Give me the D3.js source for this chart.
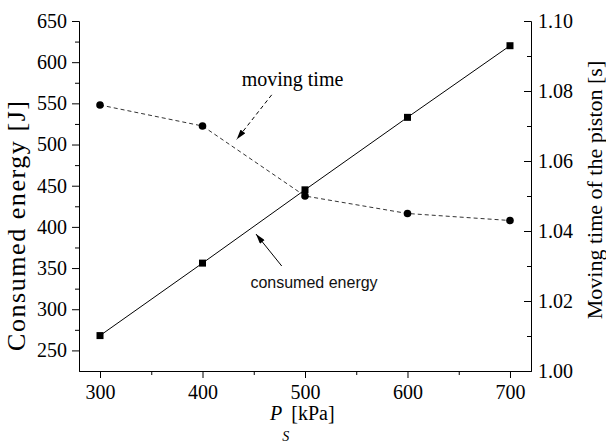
<!DOCTYPE html>
<html lang="en">
<head>
    <meta charset="UTF-8">
    <title>Consumed energy and moving time</title>
    <style>
    html, body {
        margin: 0;
        padding: 0;
        background-color: white;
    }

    svg {
        display: block;
        background-color: white;
    }

    .axis path, .axis line {
        stroke: black;
        stroke-width: 1;
    }

    .label {
        font-family: "Liberation Serif", "Times New Roman", serif;
        fill: black;
    }
    </style>
    <script src="https://d3js.org/d3.v7.min.js"></script>
</head>
<body>
    <svg id='canvas'></svg>
    <script>
    // Data
    let pressure = [300, 400, 500, 600, 700];
    let energy = [268, 356, 445, 533, 620];
    let movingTime = [1.076, 1.070, 1.050, 1.045, 1.043];

    let xTicks = [300, 400, 500, 600, 700];
    let xMinorTicks = [350, 450, 550, 650];
    let leftTicks = [250, 300, 350, 400, 450, 500, 550, 600, 650];
    let leftMinorTicks = [275, 325, 375, 425, 475, 525, 575, 625];
    let rightTicks = [1.00, 1.02, 1.04, 1.06, 1.08, 1.10];
    let rightMinorTicks = [1.01, 1.03, 1.05, 1.07, 1.09];

    let width = 606;
    let height = 445;
    let plotLeft = 79;
    let plotRight = 531;
    let plotTop = 21;
    let plotBottom = 371;
    let serif = '"Liberation Serif", "Times New Roman", serif';

    let svg = d3.select('#canvas')
        .attr('width', width)
        .attr('height', height);

    // Scales
    let xScale = d3.scaleLinear().domain([279.5, 720.5]).range([plotLeft, plotRight]);
    let yLeft = d3.scaleLinear().domain([225, 650]).range([plotBottom, plotTop]);
    let yRight = d3.scaleLinear().domain([1.00, 1.10]).range([plotBottom, plotTop]);

    // Arrow heads
    let defs = svg.append('defs');
    defs.append('marker')
        .attr('id', 'head')
        .attr('markerUnits', 'userSpaceOnUse')
        .attr('viewBox', '0 0 10 6')
        .attr('refX', 10)
        .attr('refY', 3)
        .attr('markerWidth', 11)
        .attr('markerHeight', 6)
        .attr('orient', 'auto')
        .append('path')
        .attr('d', 'M0,0 L10,3 L0,6 Z')
        .attr('fill', 'black');

    // small helper so tick labels get the serif font
    let styleAxis = (g) => {
        g.attr('font-family', serif).attr('font-size', 20);
        g.selectAll('text').attr('fill', 'black');
    };

    // Axes
    let drawAxes = () => {
        svg.append('g')
            .attr('class', 'axis')
            .attr('transform', 'translate(0,' + plotBottom + ')')
            .call(d3.axisBottom(xScale).tickValues(xTicks).tickSize(7).tickSizeOuter(0).tickPadding(7).tickFormat(d3.format('d')))
            .call(styleAxis);
        svg.append('g')
            .attr('class', 'axis')
            .attr('transform', 'translate(0,' + plotBottom + ')')
            .call(d3.axisBottom(xScale).tickValues(xMinorTicks).tickSize(4).tickSizeOuter(0).tickFormat(''));

        svg.append('g')
            .attr('class', 'axis')
            .attr('transform', 'translate(' + plotLeft + ',0)')
            .call(d3.axisLeft(yLeft).tickValues(leftTicks).tickSize(7).tickSizeOuter(0).tickPadding(5).tickFormat(d3.format('d')))
            .call(styleAxis);
        svg.append('g')
            .attr('class', 'axis')
            .attr('transform', 'translate(' + plotLeft + ',0)')
            .call(d3.axisLeft(yLeft).tickValues(leftMinorTicks).tickSize(4).tickSizeOuter(0).tickFormat(''));

        svg.append('g')
            .attr('class', 'axis')
            .attr('transform', 'translate(' + plotRight + ',0)')
            .call(d3.axisRight(yRight).tickValues(rightTicks).tickSize(-7).tickSizeOuter(0).tickPadding(7).tickFormat(d3.format('.2f')))
            .call(styleAxis);
        svg.append('g')
            .attr('class', 'axis')
            .attr('transform', 'translate(' + plotRight + ',0)')
            .call(d3.axisRight(yRight).tickValues(rightMinorTicks).tickSize(-4).tickSizeOuter(0).tickFormat(''));
    };

    // Series
    let drawSeries = () => {
        let energyLine = d3.line()
            .x((d, i) => xScale(pressure[i]))
            .y((d) => yLeft(d));
        let timeLine = d3.line()
            .x((d, i) => xScale(pressure[i]))
            .y((d) => yRight(d));

        svg.append('path')
            .datum(energy)
            .attr('d', energyLine)
            .attr('fill', 'none')
            .attr('stroke', 'black')
            .attr('stroke-width', 1);

        svg.append('path')
            .datum(movingTime)
            .attr('d', timeLine)
            .attr('fill', 'none')
            .attr('stroke', '#333')
            .attr('stroke-width', 1)
            .attr('stroke-dasharray', '4,3');

        svg.selectAll('.sq')
            .data(energy)
            .enter()
            .append('rect')
            .attr('class', 'sq')
            .attr('x', (d, i) => xScale(pressure[i]) - 3.5)
            .attr('y', (d) => yLeft(d) - 3.5)
            .attr('width', 7)
            .attr('height', 7)
            .attr('fill', 'black');

        svg.selectAll('.dot')
            .data(movingTime)
            .enter()
            .append('circle')
            .attr('class', 'dot')
            .attr('cx', (d, i) => xScale(pressure[i]))
            .attr('cy', (d) => yRight(d))
            .attr('r', 3.8)
            .attr('fill', 'black');
    };

    // Labels and annotations
    let drawLabels = () => {
        svg.append('text')
            .attr('class', 'label')
            .attr('transform', 'translate(25,226) rotate(-90)')
            .attr('text-anchor', 'middle')
            .attr('font-size', 26)
            .attr('textLength', 250)
            .text('Consumed energy [J]');

        svg.append('text')
            .attr('class', 'label')
            .attr('transform', 'translate(602,190) rotate(-90)')
            .attr('text-anchor', 'middle')
            .attr('font-size', 22)
            .text('Moving time of the piston [s]');

        let xl = svg.append('text')
            .attr('class', 'label')
            .attr('x', 270)
            .attr('y', 420)
            .attr('font-size', 20);
        xl.append('tspan').attr('font-style', 'italic').text('P');
        xl.append('tspan').attr('font-style', 'italic').attr('font-size', 14).attr('dy', 21).text('S');
        xl.append('tspan').attr('dy', -21).attr('dx', 2).text('[kPa]');

        svg.append('text')
            .attr('class', 'label')
            .attr('x', xScale(487.8))
            .attr('y', yRight(1.0814))
            .attr('text-anchor', 'middle')
            .attr('font-size', 20)
            .text('moving time');

        svg.append('line')
            .attr('x1', xScale(467.5))
            .attr('y1', yRight(1.0789))
            .attr('x2', xScale(433.4))
            .attr('y2', yRight(1.0662))
            .attr('stroke', 'black')
            .attr('stroke-width', 1)
            .attr('stroke-dasharray', '4,3')
            .attr('marker-end', 'url(#head)');

        svg.append('text')
            .attr('x', xScale(508.8))
            .attr('y', yLeft(325.8))
            .attr('text-anchor', 'middle')
            .attr('font-family', '"Liberation Sans", Arial, sans-serif')
            .attr('font-size', 16)
            .attr('fill', '#111')
            .text('consumed energy');

        svg.append('line')
            .attr('x1', xScale(477.3))
            .attr('y1', yLeft(352.5))
            .attr('x2', xScale(452.2))
            .attr('y2', yLeft(391.3))
            .attr('stroke', 'black')
            .attr('stroke-width', 1)
            .attr('marker-end', 'url(#head)');
    };

    drawAxes();
    drawSeries();
    drawLabels();
    </script>
</body>
</html>
